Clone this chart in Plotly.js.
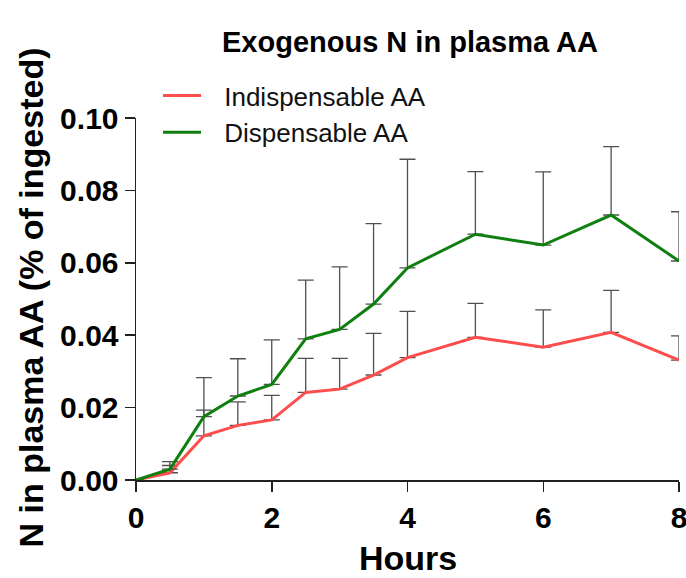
<!DOCTYPE html>
<html>
<head>
<meta charset="utf-8">
<script src="https://cdn.plot.ly/plotly-3.0.1.min.js"></script>
<style>html,body{margin:0;padding:0;background:#fff;}#chart{width:686px;height:578px;}</style>
</head>
<body>
<div id="chart"></div>
<script>
const hours = [0, 0.5, 1, 1.5, 2, 2.5, 3, 3.5, 4, 5, 6, 7, 8];
const indispensable = [0, 0.0020, 0.0122, 0.0151, 0.0166, 0.0242, 0.0251, 0.0290, 0.0338, 0.0394, 0.0367, 0.0408, 0.0331];
const indispensableErr = [0, 0.0020, 0.0071, 0.0065, 0.0068, 0.0094, 0.0085, 0.0115, 0.0128, 0.0094, 0.0103, 0.0116, 0.0067];
const dispensable = [0, 0.0030, 0.0175, 0.0232, 0.0264, 0.0390, 0.0416, 0.0486, 0.0586, 0.0679, 0.0649, 0.0732, 0.0605];
const dispensableErr = [0, 0.0021, 0.0108, 0.0103, 0.0123, 0.0162, 0.0173, 0.0222, 0.0300, 0.0173, 0.0202, 0.0189, 0.0136];
const seriesNames = ['Indispensable AA', 'Dispensable AA'];
const xTicks = [0, 2, 4, 6, 8];
const yTicks = [0, 0.02, 0.04, 0.06, 0.08, 0.10];
const yTickText = ['0.00', '0.02', '0.04', '0.06', '0.08', '0.10'];
const xTitle = 'Hours';
const yTitle = 'N in plasma AA (% of ingested)';

const errStyle = {type: 'data', symmetric: false, arrayminus: hours.map(() => 0), color: '#505050', thickness: 1.3, width: 8};
const gap = '\u2002\u2009';

const traces = [
  {x: hours, y: indispensable, name: gap + seriesNames[0], mode: 'lines', type: 'scatter',
   line: {color: '#ff4d4d', width: 3},
   error_y: Object.assign({}, errStyle, {array: indispensableErr})},
  {x: hours, y: dispensable, name: gap + seriesNames[1], mode: 'lines', type: 'scatter',
   line: {color: '#0f7f0f', width: 3},
   error_y: Object.assign({}, errStyle, {array: dispensableErr})}
];

const layout = {
  width: 686, height: 578,
  margin: {l: 136, r: 7, t: 118, b: 98, autoexpand: false},
  paper_bgcolor: '#fff', plot_bgcolor: '#fff',
  font: {family: 'Liberation Sans, Arial, sans-serif', color: '#000'},
  title: {text: '<b>Exogenous N in plasma AA</b>', font: {size: 29, color: '#000'},
          xref: 'container', x: 410/686, xanchor: 'center', yref: 'container', y: 1 - 42/578, yanchor: 'middle'},
  showlegend: true,
  legend: {xref: 'container', yref: 'container', x: 158/686, y: 1 - 72/578, xanchor: 'left', yanchor: 'top',
           font: {size: 26, color: '#111'}, bgcolor: 'rgba(0,0,0,0)', borderwidth: 0, itemwidth: 38, tracegroupgap: 0},
  xaxis: {range: [0, 8], tickvals: xTicks, ticktext: xTicks.map(String), showgrid: false, zeroline: false,
          showline: true, linecolor: '#222', linewidth: 1.5, ticks: 'outside', ticklen: 10, tickwidth: 1.5, tickcolor: '#222',
          ticklabeloverflow: 'allow',
          tickfont: {size: 30, color: '#000', weight: 'bold'}},
  yaxis: {range: [0, 0.10], tickvals: yTicks, ticktext: yTickText, showgrid: false, zeroline: false,
          showline: true, linecolor: '#222', linewidth: 1.5, ticks: 'outside', ticklen: 10, tickwidth: 1.5, tickcolor: '#222',
          tickfont: {size: 30, color: '#000', weight: 'bold'}},
  annotations: [
    {text: '<b>' + xTitle + '</b>', xref: 'paper', yref: 'paper', x: 0.5, y: (480 - 558) / 362,
     xanchor: 'center', yanchor: 'middle', showarrow: false, font: {size: 34, color: '#000'}},
    {text: '<b>' + yTitle + '</b>', xref: 'paper', yref: 'paper', x: (30 - 136) / 543, y: (480 - 297.5) / 362,
     xanchor: 'center', yanchor: 'middle', textangle: -90, showarrow: false, font: {size: 34, color: '#000'}}
  ]
};

Plotly.newPlot('chart', traces, layout, {displayModeBar: false, staticPlot: true});
</script>
</body>
</html>
